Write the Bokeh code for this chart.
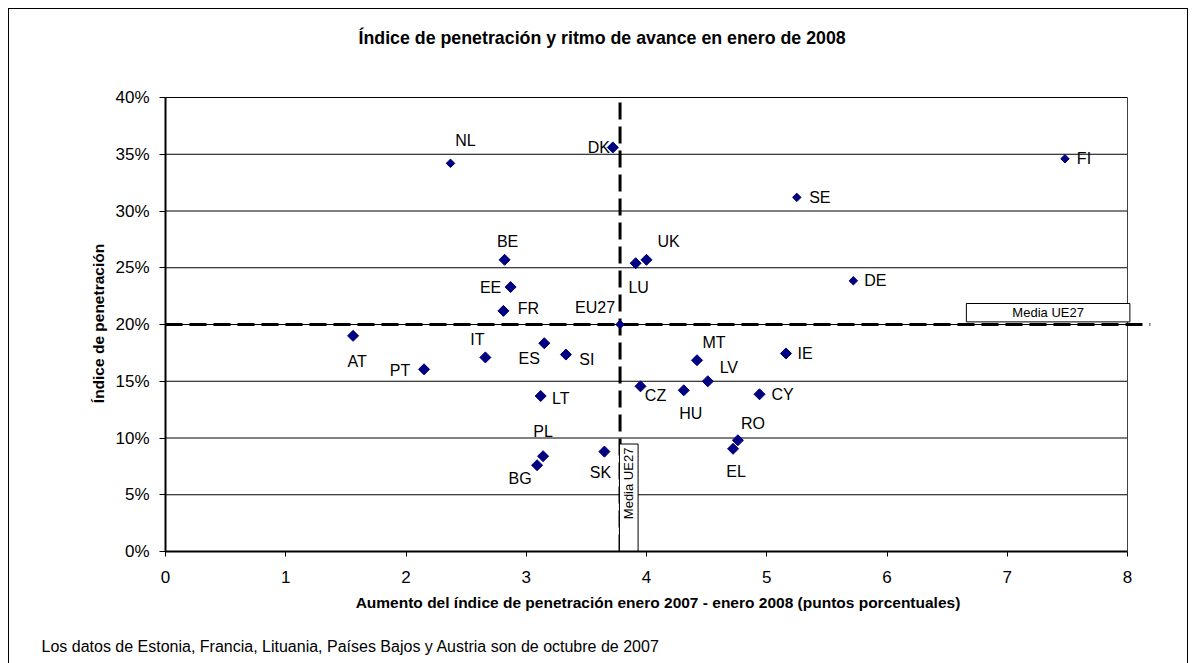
import math
from bokeh.plotting import figure
from bokeh.models import (ColumnDataSource, NumeralTickFormatter, FixedTicker, Range1d,
                          LinearAxis, Title)
from bokeh.core.properties import value
from bokeh.embed import file_html
from bokeh.resources import INLINE

# ---------------- data ----------------
codes = ["NL", "DK", "BE", "EE", "FR", "EU27", "LU", "UK", "FI", "SE", "DE",
         "AT", "PT", "IT", "ES", "SI", "LT", "PL", "BG", "SK",
         "MT", "IE", "LV", "CZ", "HU", "CY", "RO", "EL"]
aumento = [2.37, 3.72, 2.82, 2.87, 2.81, 3.78, 3.91, 4.00, 7.48, 5.25, 5.72,
           1.56, 2.15, 2.66, 3.15, 3.33, 3.12, 3.14, 3.09, 3.65,
           4.42, 5.16, 4.51, 3.95, 4.31, 4.94, 4.76, 4.72]
penetracion = [34.2, 35.6, 25.7, 23.3, 21.2, 20.0, 25.4, 25.7, 34.6, 31.2, 23.85,
               19.0, 16.05, 17.1, 18.35, 17.35, 13.7, 8.4, 7.6, 8.8,
               16.85, 17.45, 15.0, 14.55, 14.2, 13.85, 9.8, 9.05]
media_aumento = 3.78
media_penetracion = 20.0
x_ticks = [0, 1, 2, 3, 4, 5, 6, 7, 8]
y_ticks = [0, 5, 10, 15, 20, 25, 30, 35, 40]

title_text = "Índice de penetración y ritmo de avance en enero de 2008"
x_label = "Aumento del índice de penetración enero 2007 - enero 2008 (puntos porcentuales)"
y_label = "Índice de penetración"
footnote = "Los datos de Estonia, Francia, Lituania, Países Bajos y Austria son de octubre de 2007"
media_text = "Media UE27"

# ---------------- styles ----------------
FONT = "Liberation Sans"
NAVY = "#000080"
small_markers = {"NL", "FI", "SE", "DE", "EU27"}
# label offsets in screen px (dx right, dy down) of label centre from the point
label_off = {
    "NL": (15, -23), "DK": (-14, 0), "BE": (3, -18), "EE": (-20, 0), "FR": (25, -2),
    "EU27": (-25, -17), "LU": (3, 24), "UK": (22, -18), "FI": (19, 0), "SE": (23, 0),
    "DE": (22, 0), "AT": (4, 26), "PT": (-24, 1), "IT": (-8, -18), "ES": (-15, 15),
    "SI": (21, 5), "LT": (20, 2), "PL": (0, -25), "BG": (-17, 13), "SK": (-4, 21),
    "MT": (17, -18), "LV": (21, -14), "IE": (19, 0), "CZ": (15, 9), "HU": (7, 23),
    "CY": (23, 0), "RO": (15, -17), "EL": (3, 23),
}
X_PX = 962 / 8.0      # px per x unit
Y_PX = 454 / 0.40     # px per y unit (fraction)

y_frac = [v / 100.0 for v in penetracion]

p = figure(frame_width=985, frame_height=456,
           x_range=Range1d(0, 8 + 23 / X_PX),
           y_range=Range1d(0, 0.40 + 2 / Y_PX),
           output_backend="svg", toolbar_location=None,
           min_border_left=156, min_border_right=37,
           min_border_top=86, min_border_bottom=112)
p.styles = {"margin-left": "8px", "margin-top": "8px",
            "border-left": "1px solid black", "border-top": "1px solid black",
            "border-right": "1px solid black"}
p.xgrid.visible = False
p.ygrid.visible = False
p.outline_line_color = None
p.background_fill_color = "white"
p.border_fill_color = "white"


def style_axis(ax):
    ax.axis_line_color = "black"
    ax.axis_line_width = 2
    ax.major_tick_line_color = "black"
    ax.major_tick_in = 0
    ax.minor_tick_line_color = None
    ax.major_label_text_font = FONT
    ax.major_label_text_font_size = "17px"
    ax.major_label_text_color = "black"
    ax.axis_label_text_font = FONT
    ax.axis_label_text_font_size = "15.5px"
    ax.axis_label_text_font_style = "bold"
    ax.axis_label_text_color = "black"


style_axis(p.xaxis[0])
style_axis(p.yaxis[0])

p.xaxis.ticker = FixedTicker(ticks=x_ticks)
p.xaxis.bounds = (x_ticks[0], x_ticks[-1])
p.xaxis.major_tick_out = 5
p.xaxis.major_label_standoff = 14
p.xaxis.axis_label = x_label
p.xaxis.axis_label_standoff = 8

p.yaxis.ticker = FixedTicker(ticks=[t / 100.0 for t in y_ticks])
p.yaxis.formatter = NumeralTickFormatter(format="0%")
p.yaxis.bounds = (y_ticks[0] / 100.0, y_ticks[-1] / 100.0)
p.yaxis.major_tick_out = 6
p.yaxis.major_label_standoff = 10
p.yaxis.axis_label = y_label
p.yaxis.axis_label_standoff = 5


def spacer_axis(extent):
    # invisible axis (one white, label-less tick) that only reserves room in a side panel
    return LinearAxis(ticker=FixedTicker(ticks=[x_ticks[0]]), axis_line_color=None,
                      major_tick_line_color="white", minor_tick_line_color=None,
                      major_tick_in=0, major_tick_out=extent, minor_tick_in=0,
                      minor_tick_out=0, major_label_standoff=0,
                      major_label_overrides={x_ticks[0]: ""},
                      major_label_text_font_size="0px")


# title (above, outermost) with a spacer between it and the frame
p.add_layout(spacer_axis(48), "above")
p.title.text = title_text
p.title.align = "left"
p.title.offset = 193
p.title.vertical_align = "bottom"
p.title.standoff = 0
p.title.text_font = FONT
p.title.text_font_size = "17.8px"
p.title.text_font_style = "bold"
p.title.text_color = "black"

# footnote (below the x axis)
p.add_layout(spacer_axis(24), "below")
p.add_layout(Title(text=footnote, align="left", offset=-124, vertical_align="top",
                   standoff=0, text_font=FONT, text_font_size="16px",
                   text_font_style="normal", text_color="black"), "below")

# grid lines (horizontal, from 0 to 8) and right border
gy = [t / 100.0 for t in y_ticks[1:]]
p.segment(x0=[x_ticks[0]] * len(gy), x1=[x_ticks[-1]] * len(gy), y0=gy, y1=gy,
          line_color="black", line_width=1)
p.segment(x0=[x_ticks[-1]], x1=[x_ticks[-1]], y0=[0], y1=[y_ticks[-1] / 100.0],
          line_color="#404040", line_width=1)

# mean dashed lines
p.segment(x0=[p.x_range.start], x1=[p.x_range.end],
          y0=[media_penetracion / 100.0], y1=[media_penetracion / 100.0],
          line_color="black", line_width=3, line_dash="17 7")
p.segment(x0=[media_aumento], x1=[media_aumento], y0=[0], y1=[y_ticks[-1] / 100.0],
          line_color="black", line_width=3, line_dash="17 7")

# "Media UE27" boxes
hb = dict(left=6.66, right=8.02, bottom=0.2023, top=0.2185)
vb = dict(left=3.775, right=3.93, bottom=-0.01, top=0.0947, text_y=0.06)
p.quad(left=[hb["left"], vb["left"]], right=[hb["right"], vb["right"]],
       bottom=[hb["bottom"], vb["bottom"]], top=[hb["top"], vb["top"]],
       fill_color="white", line_color="black", line_width=1)
p.text(x=[(hb["left"] + hb["right"]) / 2], y=[(hb["bottom"] + hb["top"]) / 2],
       text=[media_text], text_align="center", text_baseline="middle",
       text_font=value(FONT), text_font_size="13px", text_color="black")
p.text(x=[(vb["left"] + vb["right"]) / 2], y=[vb["text_y"]],
       text=[media_text], angle=math.pi / 2, text_align="center", text_baseline="middle",
       text_font=value(FONT), text_font_size="13px", text_color="black")

# points
src = ColumnDataSource(dict(
    x=aumento, y=y_frac, code=codes,
    size=[6 if c in small_markers else 7.8 for c in codes],
    dx=[label_off[c][0] for c in codes],
    dy=[label_off[c][1] for c in codes],
))
p.scatter(x="x", y="y", size="size", marker="square", angle=math.pi / 4,
          fill_color=NAVY, line_color=NAVY, source=src)
p.text(x="x", y="y", text="code", x_offset="dx", y_offset="dy",
       text_align="center", text_baseline="middle",
       text_font=value(FONT), text_font_size="16px", text_color="black", source=src)

open("out.html", "w").write(file_html(p, INLINE))
